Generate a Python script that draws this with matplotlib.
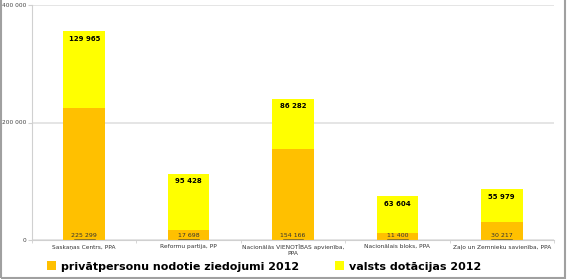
import numpy as np
import matplotlib.pyplot as plt
from matplotlib.patches import Rectangle

parties = ["Saskaņas Centrs, PPA", "Reformu partija, PP",
           "Nacionālās VIENOTĪBAS apvienība,\nPPA", "Nacionālais bloks, PPA",
           "Zaļo un Zemnieku savienība, PPA"]
private = [225299, 17698, 154166, 11400, 30217]
state = [129965, 95428, 86282, 63604, 55979]
yticks = [0, 200000, 400000]

def fmt(v):
    return f"{v:,}".replace(",", " ")

fig = plt.figure(figsize=(5.67, 2.79), dpi=100)
ax = fig.add_axes([32 / 567, 39 / 279, 522 / 567, 235 / 279])

x = np.arange(len(parties))
w = 0.4
b1 = ax.bar(x, private, w, color="#FFC000", label="privātpersonu nodotie ziedojumi 2012")
b2 = ax.bar(x, state, w, bottom=private, color="#FFFF00", label="valsts dotācijas 2012")

for i in range(len(parties)):
    ax.text(x[i], 3000, fmt(private[i]), ha="center", va="bottom", fontsize=4.5,
            color="#333333")
    ax.plot([x[i] - 0.1, x[i] + 0.1], [2500, 2500], color="#333333", lw=0.4)
    ax.text(x[i], private[i] + state[i] - 8000, fmt(state[i]), ha="center", va="top",
            fontsize=5, fontweight="bold")

ax.set_xlim(-0.5, len(parties) - 0.5)
ax.set_ylim(0, 400000)
ax.set_yticks(yticks)
ax.set_yticklabels([fmt(v) for v in yticks], fontsize=4.2, color="#444444")
ax.set_xticks(x)
ax.set_xticklabels(parties, fontsize=4.2, color="#333333")
ax.set_xticks(np.arange(-0.5, len(parties)), minor=True)
ax.tick_params(axis="x", which="major", length=0, pad=3)
ax.tick_params(axis="x", which="minor", length=2.5, color="#d0d0d0")
ax.tick_params(axis="y", length=3, color="#d0d0d0", pad=1)
ax.yaxis.grid(True, color="#e0e0e0", lw=1.2)
ax.set_axisbelow(True)
for s in ["top", "right"]:
    ax.spines[s].set_visible(False)
for s in ["left", "bottom"]:
    ax.spines[s].set_color("#d0d0d0")

fig.legend(handles=[b1, b2], loc="center", bbox_to_anchor=(0.466, 0.045), ncol=2,
           frameon=False, prop={"size": 8, "weight": "bold"},
           handlelength=0.8, handleheight=0.8, columnspacing=3.2, handletextpad=0.5)

fig.patches.append(Rectangle((0.001, 0.005), 0.996, 1.2, transform=fig.transFigure,
                             fill=False, edgecolor="#a0a0a0", lw=1.5))

fig.savefig("out.png", dpi=100)
